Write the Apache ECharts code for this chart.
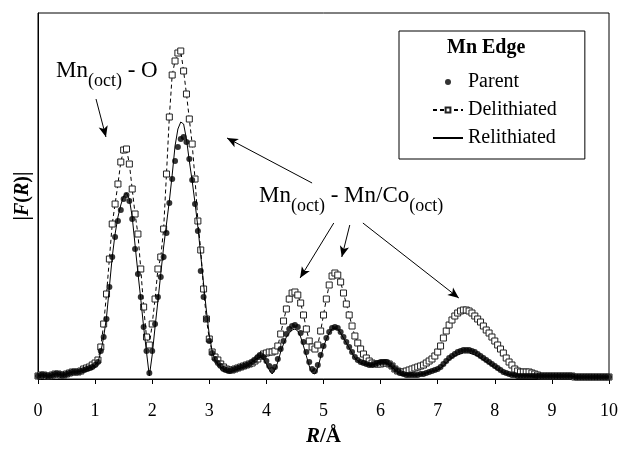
<!DOCTYPE html>
<html>
<head>
<meta charset="utf-8">
<title>Mn edge |F(R)|</title>
<script src="https://cdn.jsdelivr.net/npm/echarts@6.0.0/dist/echarts.min.js"></script>
<style>
  html, body { margin: 0; padding: 0; background: #fff; }
  #chart { width: 619px; height: 450px; }
</style>
</head>
<body>
<div id="chart"></div>
<script>
// Fourier-transform magnitude |F(R)| at the Mn edge, sampled every 0.05 Å from R = 0 to 10 Å
const rStart = 0;
const rStep = 0.05;

const parent = [
  0.03,0.04,0.04,0.03,0.03,0.04,0.05,0.05,0.04,0.04,
  0.05,0.06,0.07,0.07,0.07,0.08,0.09,0.10,0.11,0.12,
  0.14,0.17,0.28,0.42,0.60,0.92,1.22,1.42,1.58,1.69,
  1.80,1.84,1.78,1.60,1.30,1.05,0.82,0.52,0.28,0.06,
  0.28,0.55,0.82,1.02,1.22,1.46,1.76,2.00,2.18,2.32,
  2.40,2.42,2.37,2.20,1.99,1.75,1.48,1.08,0.82,0.60,
  0.38,0.26,0.20,0.16,0.13,0.10,0.09,0.08,0.09,0.10,
  0.11,0.12,0.13,0.14,0.15,0.17,0.19,0.22,0.24,0.22,
  0.18,0.13,0.09,0.12,0.20,0.30,0.38,0.45,0.50,0.53,
  0.54,0.52,0.46,0.37,0.27,0.17,0.10,0.08,0.14,0.24,
  0.33,0.41,0.47,0.51,0.52,0.51,0.47,0.42,0.37,0.32,
  0.27,0.22,0.19,0.17,0.16,0.15,0.14,0.14,0.15,0.16,
  0.17,0.17,0.17,0.15,0.13,0.10,0.08,0.06,0.05,0.04,
  0.04,0.04,0.04,0.04,0.05,0.05,0.06,0.07,0.08,0.09,
  0.10,0.12,0.15,0.18,0.21,0.23,0.25,0.27,0.28,0.29,
  0.29,0.29,0.28,0.27,0.25,0.23,0.21,0.19,0.17,0.15,
  0.13,0.11,0.09,0.07,0.06,0.05,0.04,0.04,0.03,0.03,
  0.03,0.03,0.03,0.03,0.03,0.03,0.03,0.03,0.03,0.03,
  0.03,0.03,0.03,0.03,0.03,0.03,0.03,0.03,0.02,0.02,
  0.02,0.02,0.02,0.02,0.02,0.02,0.02,0.02,0.02,0.02,
  0.02
];

const delithiated = [
  0.03,0.04,0.04,0.03,0.03,0.04,0.05,0.05,0.04,0.04,
  0.05,0.06,0.07,0.07,0.07,0.08,0.10,0.11,0.12,0.14,
  0.16,0.19,0.32,0.55,0.85,1.20,1.55,1.75,1.95,2.17,
  2.29,2.30,2.15,1.90,1.65,1.45,1.10,0.72,0.42,0.34,
  0.55,0.80,1.10,1.22,1.50,2.05,2.62,3.04,3.18,3.26,
  3.28,3.08,2.85,2.60,2.35,2.00,1.58,1.29,0.90,0.60,
  0.40,0.27,0.22,0.19,0.15,0.12,0.10,0.09,0.09,0.10,
  0.11,0.12,0.13,0.14,0.15,0.16,0.18,0.20,0.23,0.25,
  0.26,0.27,0.27,0.28,0.33,0.45,0.58,0.70,0.80,0.86,
  0.87,0.84,0.76,0.64,0.50,0.38,0.32,0.30,0.34,0.48,
  0.64,0.80,0.94,1.03,1.06,1.04,0.97,0.86,0.75,0.64,
  0.53,0.43,0.36,0.30,0.25,0.21,0.18,0.16,0.15,0.15,
  0.15,0.16,0.16,0.15,0.13,0.10,0.08,0.07,0.07,0.08,
  0.09,0.10,0.11,0.12,0.13,0.14,0.16,0.18,0.20,0.23,
  0.27,0.33,0.41,0.48,0.54,0.59,0.63,0.66,0.68,0.69,
  0.69,0.68,0.66,0.63,0.60,0.57,0.53,0.49,0.46,0.42,
  0.38,0.34,0.30,0.26,0.21,0.17,0.14,0.10,0.08,0.07,
  0.07,0.07,0.07,0.06,0.05,0.04,0.03,0.03,0.03,0.03,
  0.03,0.03,0.03,0.03,0.03,0.03,0.03,0.03,0.02,0.02,
  0.02,0.02,0.02,0.02,0.02,0.02,0.02,0.02,0.02,0.02,
  0.02
];

const relithiated = [
  0.03,0.04,0.04,0.03,0.03,0.04,0.05,0.05,0.04,0.04,
  0.05,0.06,0.07,0.07,0.07,0.08,0.09,0.10,0.11,0.12,
  0.14,0.17,0.27,0.42,0.62,0.92,1.22,1.45,1.62,1.74,
  1.83,1.86,1.80,1.62,1.34,1.06,0.80,0.52,0.27,0.03,
  0.24,0.52,0.78,1.05,1.32,1.55,1.78,2.04,2.33,2.50,
  2.57,2.55,2.40,2.18,1.98,1.76,1.52,1.24,0.95,0.68,
  0.44,0.28,0.19,0.15,0.12,0.10,0.08,0.07,0.08,0.09,
  0.10,0.11,0.12,0.13,0.15,0.17,0.19,0.21,0.22,0.20,
  0.15,0.09,0.05,0.09,0.17,0.27,0.35,0.42,0.46,0.49,
  0.50,0.48,0.42,0.33,0.23,0.13,0.06,0.05,0.11,0.22,
  0.32,0.40,0.46,0.50,0.51,0.50,0.46,0.41,0.36,0.31,
  0.26,0.21,0.18,0.16,0.15,0.14,0.14,0.14,0.15,0.16,
  0.17,0.17,0.16,0.14,0.12,0.09,0.07,0.05,0.04,0.04,
  0.04,0.04,0.04,0.04,0.05,0.05,0.06,0.07,0.08,0.08,
  0.09,0.11,0.13,0.16,0.19,0.21,0.23,0.24,0.25,0.26,
  0.26,0.26,0.25,0.24,0.23,0.21,0.19,0.17,0.15,0.13,
  0.11,0.09,0.08,0.06,0.05,0.04,0.04,0.03,0.03,0.03,
  0.03,0.03,0.03,0.03,0.03,0.03,0.03,0.03,0.03,0.03,
  0.03,0.03,0.03,0.03,0.03,0.03,0.03,0.03,0.02,0.02,
  0.02,0.02,0.02,0.02,0.02,0.02,0.02,0.02,0.02,0.02,
  0.02
];

const seriesNames = ['Parent', 'Delithiated', 'Relithiated'];
const xTickLabels = ['0','1','2','3','4','5','6','7','8','9','10'];

// Shell assignments, anchored in (R, |F(R)|) units
const labelAnchors = [
  { at: [0.315, 3.08], text: '{m|Mn}{s|(oct)}{m| - O}' },
  { at: [3.87, 1.83], text: '{m|Mn}{s|(oct)}{m| - Mn/Co}{s|(oct)}' }
];
const arrowLines = [
  [[1.016, 2.80], [1.19, 2.42]],
  [[4.80, 1.96], [3.31, 2.41]],
  [[5.18, 1.56], [4.59, 1.01]],
  [[5.46, 1.54], [5.32, 1.22]],
  [[5.69, 1.56], [7.37, 0.81]]
];

const R = parent.map((_, i) => +(rStart + i * rStep).toFixed(2));
const pairs = vals => vals.map((v, i) => [R[i], v]);

const serif = "'Liberation Serif', 'Times New Roman', serif";

const chart = echarts.init(document.getElementById('chart'), null, { renderer: 'canvas' });

chart.setOption({
  animation: false,
  backgroundColor: '#fff',
  grid: {
    left: 38, right: 10, top: 13, bottom: 71,
    outerBoundsMode: 'none',
    show: true, borderColor: '#000', borderWidth: 1, backgroundColor: 'transparent'
  },
  title: {
    text: 'Mn Edge',
    left: 447, top: 38, padding: 0,
    textStyle: { fontFamily: serif, fontSize: 20, fontWeight: 'bold', color: '#000' }
  },
  legend: {
    orient: 'vertical',
    left: 399, top: 31,
    padding: [41, 28, 11, 33],
    itemWidth: 30, itemHeight: 6, itemGap: 8,
    backgroundColor: '#fff', borderColor: '#000', borderWidth: 1, borderRadius: 0,
    textStyle: { fontFamily: serif, fontSize: 20, lineHeight: 20, color: '#000' },
    data: [
      { name: seriesNames[0] },
      { name: seriesNames[1] },
      { name: seriesNames[2], itemStyle: { opacity: 0 } }
    ]
  },
  xAxis: {
    type: 'value', min: 0, max: 10, interval: 1,
    name: '{i|R}{n|/Å}',
    nameLocation: 'middle', nameGap: 47,
    nameTextStyle: {
      rich: {
        i: { fontFamily: serif, fontSize: 21, fontStyle: 'italic', fontWeight: 'bold', color: '#000' },
        n: { fontFamily: serif, fontSize: 21, fontWeight: 'bold', color: '#000' }
      }
    },
    axisLine: { show: true, onZero: false, lineStyle: { color: '#000', width: 1 } },
    axisTick: { show: true, inside: false, length: 5, lineStyle: { color: '#000' } },
    axisLabel: {
      fontFamily: serif, fontSize: 18, color: '#000', margin: 23,
      formatter: v => xTickLabels[Math.round(v)]
    },
    splitLine: { show: false }
  },
  yAxis: {
    type: 'value', min: 0, max: 3.66,
    name: '{n||}{i|F}{n|(}{i|R}{n|)|}',
    nameLocation: 'middle', nameGap: 5, nameRotate: 90,
    nameTextStyle: {
      rich: {
        i: { fontFamily: serif, fontSize: 20, fontStyle: 'italic', fontWeight: 'bold', color: '#000' },
        n: { fontFamily: serif, fontSize: 20, fontWeight: 'bold', color: '#000' }
      }
    },
    axisLine: { show: true, lineStyle: { color: '#000', width: 1 } },
    axisTick: { show: false },
    axisLabel: { show: false },
    splitLine: { show: false }
  },
  series: [
    {
      name: seriesNames[1],
      type: 'line',
      data: pairs(delithiated),
      symbol: 'rect', symbolSize: 6,
      showSymbol: true, showAllSymbol: true,
      itemStyle: { color: '#fff', borderColor: '#222', borderWidth: 1 },
      lineStyle: { color: '#000', width: 1, type: [4, 3] },
      z: 2
    },
    {
      name: seriesNames[2],
      type: 'line',
      data: pairs(relithiated),
      symbol: 'none',
      itemStyle: { color: '#000' },
      lineStyle: { color: '#000', width: 1 },
      z: 3,
      markLine: {
        silent: true,
        symbol: ['none', 'arrow'],
        symbolSize: [7, 11],
        label: { show: false },
        lineStyle: { color: '#000', width: 1, type: 'solid' },
        data: arrowLines.map(([a, b]) => [{ coord: a }, { coord: b }])
      },
      markPoint: {
        silent: true,
        symbol: 'circle', symbolSize: 0,
        data: labelAnchors.map(l => ({
          coord: l.at,
          label: {
            show: true, position: 'right', distance: 0,
            formatter: l.text,
            rich: {
              m: { fontFamily: serif, fontSize: 23, color: '#000', lineHeight: 40, verticalAlign: 'middle' },
              s: { fontFamily: serif, fontSize: 18, color: '#000', lineHeight: 20, padding: [20, 0, 0, 0], verticalAlign: 'middle' }
            }
          }
        }))
      }
    },
    {
      name: seriesNames[0],
      type: 'scatter',
      data: pairs(parent),
      symbol: 'circle', symbolSize: 6,
      itemStyle: { color: '#000' },
      z: 4
    }
  ]
});
</script>
</body>
</html>
